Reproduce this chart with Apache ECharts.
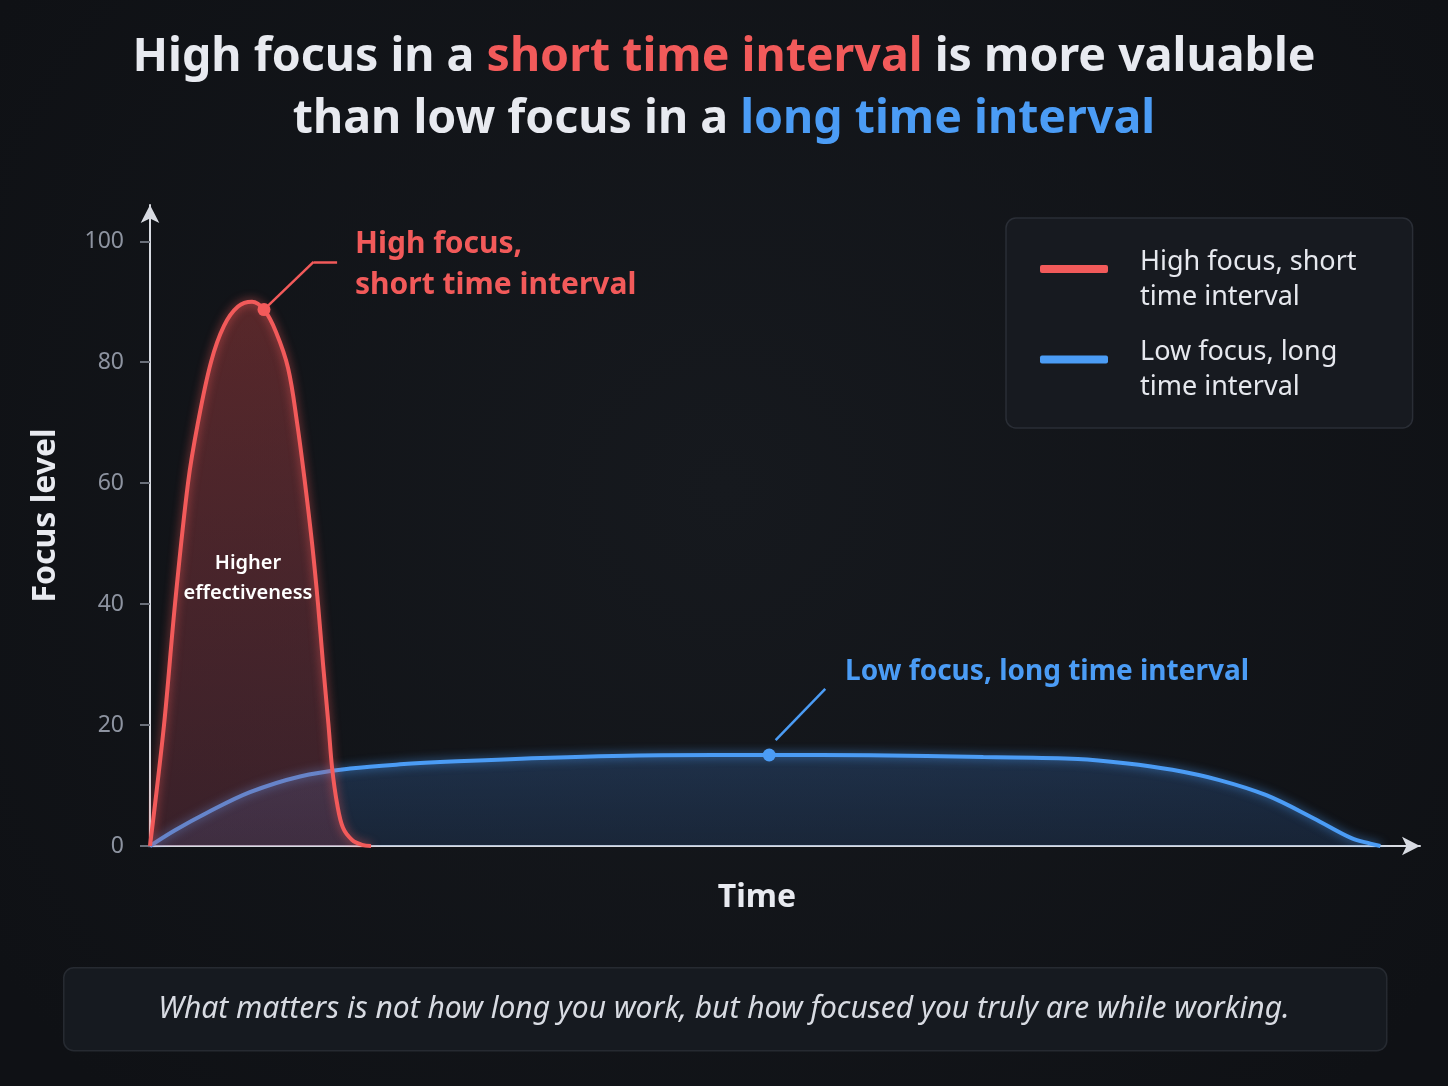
<!DOCTYPE html>
<html>
<head>
<meta charset="utf-8">
<script src="https://cdn.jsdelivr.net/npm/echarts@6/dist/echarts.min.js"></script>
<style>
  html, body { margin: 0; padding: 0; background: #121519; }
  #main { width: 1448px; height: 1086px; }
</style>
</head>
<body>
<div id="main"></div>
<script>
// series names
var seriesNames = ['High focus, short time interval', 'Low focus, long time interval'];
var legendLabels = ['High focus, short\ntime interval', 'Low focus, long\ntime interval'];

// high focus curve: [time, focus]
var highTime  = [0, 1.11, 1.98, 3.01, 3.80, 4.83, 5.86, 6.97, 8.08, 9.03, 9.98, 10.94, 11.65, 12.28, 12.84, 13.31, 13.71, 14.14, 14.42, 14.82, 15.29, 16.01, 16.8, 17.51];
var highFocus = [0, 20, 40, 60, 70, 80, 86, 89.2, 90, 88.7, 85, 79, 70, 60, 50, 40, 30, 20, 13, 7, 3, 1, 0.2, 0];

// low focus curve
var lowTime  = [0, 1.98, 4.52, 7.92, 11.89, 15.85, 19.81, 24.33, 31.7, 40.41, 49.05, 57.05, 66.01, 73.5, 77.26, 80.98, 84.71, 88.43, 92.16, 95.17, 96.67, 97.46];
var lowFocus = [0, 2.6, 5.5, 8.9, 11.5, 12.8, 13.5, 14, 14.6, 15.0, 15.05, 15.0, 14.7, 14.4, 13.7, 12.6, 10.9, 8.4, 4.6, 1.3, 0.4, 0];

// y axis ticks
var yTicks = [0, 20, 40, 60, 80, 100];

// highlighted points + callouts
var highMark = [9.03, 88.7];
var highElbow = [12.96, 96.6];
var highEnd = [14.82, 96.6];
var lowMark = [49.05, 15.05];
var lowLeaderStart = [49.56, 17.5];
var lowLeaderEnd = [53.49, 26.0];

function zip(xs, ys) {
  return xs.map(function (x, i) { return [x, ys[i]]; });
}

var RED = '#f25a5a', BLUE = '#4b9cf5';
var FONT = '"Noto Sans", "Open Sans", sans-serif';

var chart = echarts.init(document.getElementById('main'));

var legendRich = {
  s: { fontSize: 10, lineHeight: 21 },
  a: { color: '#e6e8ee', fontSize: 27, lineHeight: 35, fontFamily: FONT }
};

chart.setOption({
  backgroundColor: {
    type: 'radial', x: 0.5, y: 0.45, r: 0.8,
    colorStops: [{ offset: 0, color: '#16191e' }, { offset: 1, color: '#0f1115' }]
  },
  animation: false,
  textStyle: { fontFamily: FONT },
  title: {
    left: 'center',
    top: 22,
    text: '{w|High focus in a }{r|short time interval}{w| is more valuable}\n{w|than low focus in a }{b|long time interval}',
    textStyle: {
      rich: {
        w: { color: '#e8eaf0', fontSize: 46.5, fontWeight: 'bold', lineHeight: 62, fontFamily: FONT },
        r: { color: RED, fontSize: 46.5, fontWeight: 'bold', lineHeight: 62, fontFamily: FONT },
        b: { color: BLUE, fontSize: 46.5, fontWeight: 'bold', lineHeight: 62, fontFamily: FONT }
      }
    }
  },
  legend: {
    orient: 'vertical',
    left: 1006,
    top: 218,
    padding: [11, 56, 27, 34],
    backgroundColor: '#171a20',
    borderColor: '#2a2e36',
    borderWidth: 1.5,
    borderRadius: 10,
    itemWidth: 68,
    itemHeight: 8,
    itemGap: 9,
    icon: 'roundRect',
    data: seriesNames,
    formatter: function (name) {
      var lines = legendLabels[seriesNames.indexOf(name)].split('\n');
      return '{s| }\n' + lines.map(function (l) { return '{a|' + l + '}'; }).join('\n');
    },
    textStyle: {
      color: '#e6e8ee', fontSize: 27,
      padding: [0, 0, 0, 27], fontFamily: FONT,
      rich: legendRich
    }
  },
  grid: { left: 150, right: 28, top: 205, bottom: 240 },
  xAxis: {
    type: 'value', min: 0, max: 100.6,
    name: 'Time', nameLocation: 'middle', nameGap: 36,
    nameTextStyle: { color: '#e8eaf0', fontSize: 32, fontWeight: 'bold', padding: [0, 56, 0, 0] },
    axisLine: { show: true, lineStyle: { color: '#d8dbe2', width: 2 }, symbol: ['none', 'arrow'], symbolSize: [14, 18] },
    axisTick: { show: false },
    axisLabel: { show: false },
    splitLine: { show: false }
  },
  yAxis: {
    type: 'value', min: 0, max: 106,
    name: 'Focus level', nameLocation: 'middle', nameGap: 88, nameRotate: 90,
    nameTextStyle: { color: '#e8eaf0', fontSize: 32, fontWeight: 'bold', padding: [0, 0, 0, 20] },
    axisLine: { show: true, lineStyle: { color: '#d8dbe2', width: 2 }, symbol: ['none', 'arrow'], symbolSize: [14, 18] },
    axisTick: { show: true, length: 10, customValues: yTicks, lineStyle: { color: '#6b707a', width: 2 } },
    axisLabel: { customValues: yTicks, color: '#8d93a0', fontSize: 23, margin: 26 },
    splitLine: { show: false }
  },
  series: [
    {
      name: seriesNames[1],
      type: 'line',
      data: zip(lowTime, lowFocus),
      smooth: 0.35,
      showSymbol: false,
      z: 2,
      lineStyle: { color: BLUE, width: 4, shadowColor: 'rgba(75,156,245,0.7)', shadowBlur: 10 },
      itemStyle: { color: BLUE },
      areaStyle: {
        color: { type: 'linear', x: 0, y: 0, x2: 0, y2: 1,
          colorStops: [{ offset: 0, color: 'rgba(60,120,200,0.38)' }, { offset: 1, color: 'rgba(50,100,170,0.30)' }] }
      },
      markPoint: {
        symbol: 'circle', symbolSize: 13, silent: true,
        itemStyle: { color: BLUE },
        label: { show: false },
        data: [{ coord: lowMark }]
      },
      markLine: {
        symbol: 'none', silent: true,
        lineStyle: { color: BLUE, width: 2.5, type: 'solid' },
        label: { show: false },
        data: [[{ coord: lowLeaderStart }, { coord: lowLeaderEnd }]]
      }
    },
    {
      name: seriesNames[0],
      type: 'line',
      data: zip(highTime, highFocus),
      smooth: 0.35,
      showSymbol: false,
      z: 3,
      lineStyle: { color: RED, width: 4, shadowColor: 'rgba(242,90,90,0.7)', shadowBlur: 10 },
      itemStyle: { color: RED },
      areaStyle: {
        color: { type: 'linear', x: 0, y: 0, x2: 0, y2: 1,
          colorStops: [{ offset: 0, color: 'rgba(200,70,70,0.55)' }, { offset: 1, color: 'rgba(170,70,90,0.38)' }] }
      },
      markPoint: {
        symbol: 'circle', symbolSize: 13, silent: true,
        itemStyle: { color: RED },
        label: { show: false },
        data: [{ coord: highMark }]
      },
      markLine: {
        symbol: 'none', silent: true,
        lineStyle: { color: RED, width: 2.5, type: 'solid' },
        label: { show: false },
        data: [
          [{ coord: highMark }, { coord: highElbow }],
          [{ coord: highElbow }, { coord: highEnd }]
        ]
      }
    }
  ],
  graphic: [
    {
      type: 'text', left: 355, top: 224, z: 100,
      style: { text: 'High focus,\nshort time interval', fill: RED, font: 'bold 30px ' + FONT, lineHeight: 41 }
    },
    {
      type: 'text', left: 845, top: 658, z: 100,
      style: { text: 'Low focus, long time interval', fill: BLUE, font: 'bold 28px ' + FONT }
    },
    {
      type: 'text', x: 248, y: 578, z: 100,
      style: { text: 'Higher\neffectiveness', fill: '#ffffff', font: '600 20px ' + FONT, lineHeight: 30, align: 'center', verticalAlign: 'middle' }
    },
    {
      type: 'rect', left: 63, top: 967, z: -1,
      shape: { width: 1323, height: 83, r: 10 },
      style: { fill: '#161a20', stroke: '#262a31', lineWidth: 1.5 }
    },
    {
      type: 'text', x: 724, y: 1009, z: 100,
      style: { text: 'What matters is not how long you work, but how focused you truly are while working.', fill: '#d8dbe2', font: 'italic 30px ' + FONT, align: 'center', verticalAlign: 'middle' }
    }
  ]
});
</script>
</body>
</html>
